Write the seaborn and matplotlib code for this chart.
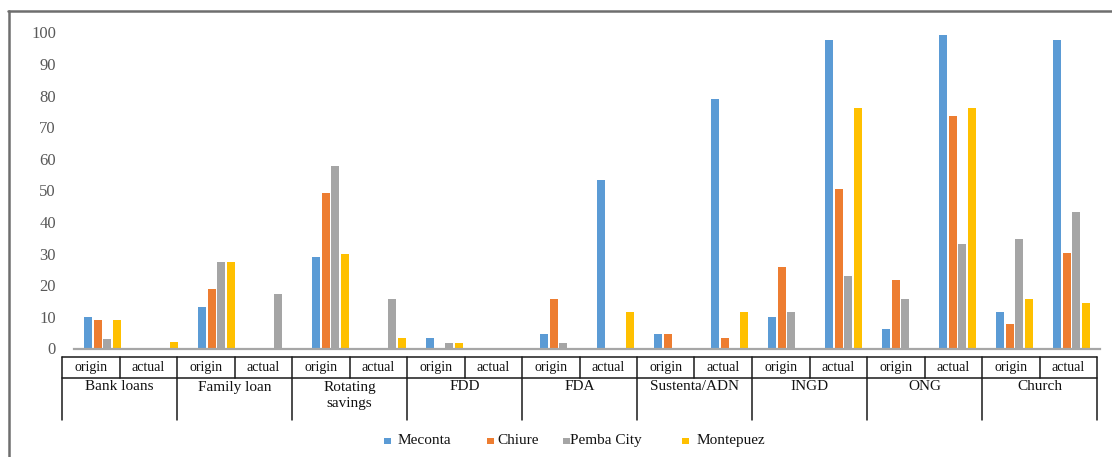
import matplotlib
matplotlib.use("Agg")
import matplotlib.pyplot as plt
from matplotlib.lines import Line2D
from matplotlib.patches import Rectangle
import seaborn as sns
import pandas as pd

# Sources of support, each observed at origin and at the actual place
sources = ["Bank loans", "Family loan", "Rotating\nsavings", "FDD", "FDA",
           "Sustenta/ADN", "INGD", "ONG", "Church"]
periods = ["origin", "actual"]
sites = ["Meconta", "Chiure", "Pemba City", "Montepuez"]

# Percent of households per site, ordered source by source (origin, actual)
meconta = [10, 0, 13, 0, 28.8, 0, 3.2, 0, 4.6, 53.3, 4.6, 78.8, 10, 97.7, 6.1, 99.2, 11.6, 97.7]
chiure = [9, 0, 18.7, 0, 49.2, 0, 0, 0, 15.8, 0, 4.6, 3.2, 25.9, 50.4, 21.6, 73.5, 7.6, 30.2]
pemba_city = [3, 0, 27.4, 17.3, 57.7, 15.8, 1.8, 0, 1.8, 0, 0, 0, 11.6, 23.1, 15.8, 33.1, 34.6, 43.3]
montepuez = [9, 1.9, 27.4, 0, 30, 3.2, 1.8, 0, 0, 11.6, 0, 11.6, 0, 76, 0, 76, 15.8, 14.4]

y_ticks = [0, 10, 20, 30, 40, 50, 60, 70, 80, 90, 100]
colors = ["#5B9BD5", "#ED7D31", "#A5A5A5", "#FFC000"]

slots = [f"{s}|{p}" for s in sources for p in periods]
series = {"Meconta": meconta, "Chiure": chiure,
          "Pemba City": pemba_city, "Montepuez": montepuez}
rows = []
for site in sites:
    for slot, v in zip(slots, series[site]):
        rows.append({"slot": slot, "site": site, "value": v})
df = pd.DataFrame(rows)

sns.set_theme(style="white")
plt.rcParams["font.family"] = ["Liberation Serif", "DejaVu Serif"]

W, H = 1112, 457
fig = plt.figure(figsize=(W / 100, H / 100), dpi=100)
fig.patch.set_facecolor("white")


def fx(px):
    return px / W


def fy(py):
    return 1 - py / H


base_y, top_y = 348.5, 32.5
ax = fig.add_axes([fx(74), fy(base_y), (1100 - 74) / W, (base_y - top_y) / H])

sns.barplot(data=df, x="slot", y="value", hue="site", order=slots,
            hue_order=sites, palette=colors, saturation=1, width=0.7, gap=0.2,
            errorbar=None, linewidth=0, legend=False, ax=ax)

ax.set_xlim(-0.5, len(slots) - 0.5)
ax.set_ylim(0, 100)
ax.set_yticks(y_ticks)
ax.set_yticklabels([str(t) for t in y_ticks], fontsize=12, color="#595959")
ax.tick_params(axis="y", length=0, pad=13)
ax.set_xticks([])
ax.set_xlabel("")
ax.set_ylabel("")
for side in ["left", "right", "top"]:
    ax.spines[side].set_visible(False)
ax.spines["bottom"].set_color("#A6A6A6")
ax.spines["bottom"].set_linewidth(1.6)
ax.grid(False)
ax.patch.set_alpha(0)

# Two-row category table under the bars
tl, tr = 62, 1097
cell = (tr - tl) / len(slots)
t_top, t_mid, t_bot = 357, 378, 420
lc, lw = "#1a1a1a", 1.1
for yy in (t_top, t_mid):
    fig.add_artist(Line2D([fx(tl), fx(tr)], [fy(yy), fy(yy)], color=lc, lw=lw))
for i in range(len(slots) + 1):
    xx = tl + i * cell
    y_end = t_bot if i % 2 == 0 else t_mid
    fig.add_artist(Line2D([fx(xx), fx(xx)], [fy(t_top), fy(y_end)], color=lc, lw=lw))
for i, slot in enumerate(slots):
    fig.text(fx(tl + (i + 0.5) * cell), fy(367.5), slot.split("|")[1],
             ha="center", va="center", fontsize=10, color="#111111")
for g, src in enumerate(sources):
    fig.text(fx(tl + (2 * g + 1) * cell), fy(380.5), src, ha="center", va="top",
             fontsize=11, color="#111111", linespacing=1.4)

# Legend row
legend_items = [("Meconta", 384, 398), ("Chiure", 487, 497),
                ("Pemba City", 563, 570), ("Montepuez", 682, 697)]
for (name, mx, tx), c in zip(legend_items, colors):
    fig.add_artist(Rectangle((fx(mx), fy(443.5)), 7 / W, 6 / H,
                             transform=fig.transFigure, facecolor=c, edgecolor="none"))
    fig.text(fx(tx), fy(440.5), name, ha="left", va="center", fontsize=11,
             color="#111111")

# Frame lines around the chart area
fig.add_artist(Line2D([fx(8), 1.0], [fy(10.5), fy(10.5)], color="#6E6E6E", lw=1.8))
fig.add_artist(Line2D([fx(8.5), fx(8.5)], [fy(10.5), 0.0], color="#6E6E6E", lw=1.8))

fig.savefig("out.png", dpi=100, facecolor="white")
